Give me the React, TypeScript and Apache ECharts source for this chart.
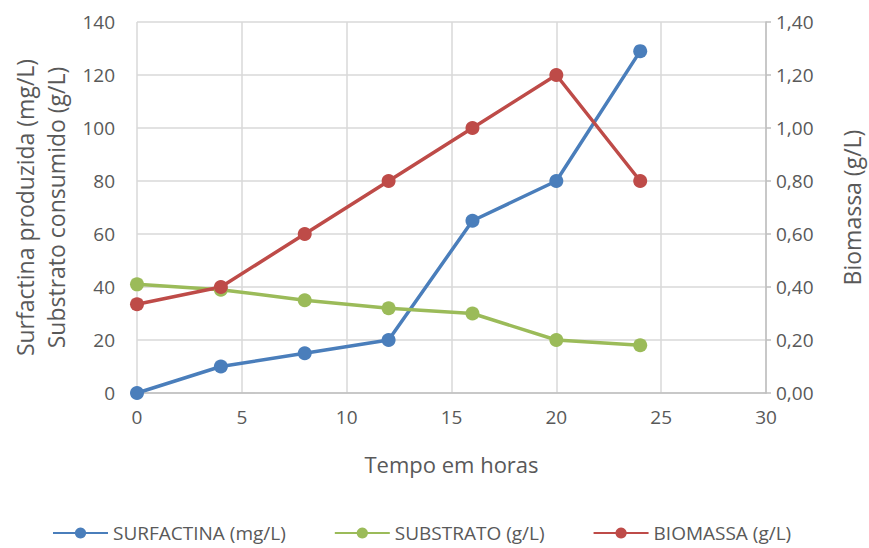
import React, { useEffect, useRef } from "react";
import * as echarts from "echarts";

const hours = [0, 4, 8, 12, 16, 20, 24];
const surfactina = [0, 10, 15, 20, 65, 80, 129];
const substrato = [41, 39, 35, 32, 30, 20, 18];
const biomassa = [0.335, 0.4, 0.6, 0.8, 1.0, 1.2, 0.8];

const FONT = "Open Sans";
const TXT = "#595959";

export default function App() {
  const ref = useRef<HTMLDivElement>(null);
  useEffect(() => {
    const chart = echarts.init(ref.current!, null, { renderer: "svg" });
    const mk = (name: string, data: number[], color: string, yAxisIndex: number) => ({
      name,
      type: "line",
      yAxisIndex,
      data: hours.map((h, i) => [h, data[i]]),
      symbol: "circle",
      symbolSize: 14,
      lineStyle: { width: 3.5, color },
      itemStyle: { color },
    });
    chart.setOption({
      animation: false,
      textStyle: { fontFamily: FONT },
      grid: { left: 137, right: 103, top: 22, bottom: 155, outerBoundsMode: "none", containLabel: false },
      legend: {
        top: 523,
        left: 52,
        padding: 0,
        itemWidth: 55,
        itemHeight: 14,
        itemGap: 48,
        textStyle: { fontSize: 19, lineHeight: 20, color: TXT, fontFamily: FONT },
        data: ["SURFACTINA (mg/L)", "SUBSTRATO (g/L)", "BIOMASSA (g/L)"],
      },
      xAxis: {
        type: "value",
        min: 0,
        max: 30,
        interval: 5,
        name: "Tempo em horas",
        nameLocation: "middle",
        nameGap: 60,
        nameTextStyle: { fontSize: 22, color: TXT, fontFamily: FONT },
        axisLine: { show: true, lineStyle: { color: "#bfbfbf", width: 1.5 } },
        axisTick: { show: false },
        axisLabel: { fontSize: 19, color: TXT, margin: 14, fontFamily: FONT },
        splitLine: { show: true, lineStyle: { color: "#d9d9d9", width: 1.5 } },
      },
      yAxis: [
        {
          type: "value",
          min: 0,
          max: 140,
          interval: 20,
          name: "Surfactina produzida (mg/L)\nSubstrato consumido (g/L)",
          nameLocation: "middle",
          nameGap: 66,
          nameRotate: 90,
          nameTextStyle: { fontSize: 23, color: TXT, fontFamily: FONT, lineHeight: 31 },
          axisLine: { show: false },
          axisTick: { show: false },
          axisLabel: { fontSize: 19, color: TXT, margin: 22, fontFamily: FONT },
          splitLine: { show: true, lineStyle: { color: "#d9d9d9", width: 1.5 } },
        },
        {
          type: "value",
          min: 0,
          max: 1.4,
          interval: 0.2,
          position: "right",
          name: "Biomassa (g/L)",
          nameLocation: "middle",
          nameGap: 74,
          nameRotate: 90,
          nameTextStyle: { fontSize: 23, color: TXT, fontFamily: FONT },
          axisLine: { show: true, lineStyle: { color: "#bfbfbf", width: 1.5 } },
          axisTick: { show: true, length: 5, lineStyle: { color: "#bfbfbf", width: 1.5 } },
          axisLabel: {
            fontSize: 19,
            color: TXT,
            margin: 10,
            fontFamily: FONT,
            formatter: (v: number) => v.toFixed(2).replace(".", ","),
          },
          splitLine: { show: false },
        },
      ],
      series: [
        mk("SURFACTINA (mg/L)", surfactina, "#4a7ebb", 0),
        mk("SUBSTRATO (g/L)", substrato, "#9bbb59", 0),
        mk("BIOMASSA (g/L)", biomassa, "#be4b48", 1),
      ],
    });
    return () => chart.dispose();
  }, []);
  return (
    <div
      ref={ref}
      style={{ position: "fixed", left: 0, top: 0, width: 869, height: 548, background: "#fff" }}
    />
  );
}
